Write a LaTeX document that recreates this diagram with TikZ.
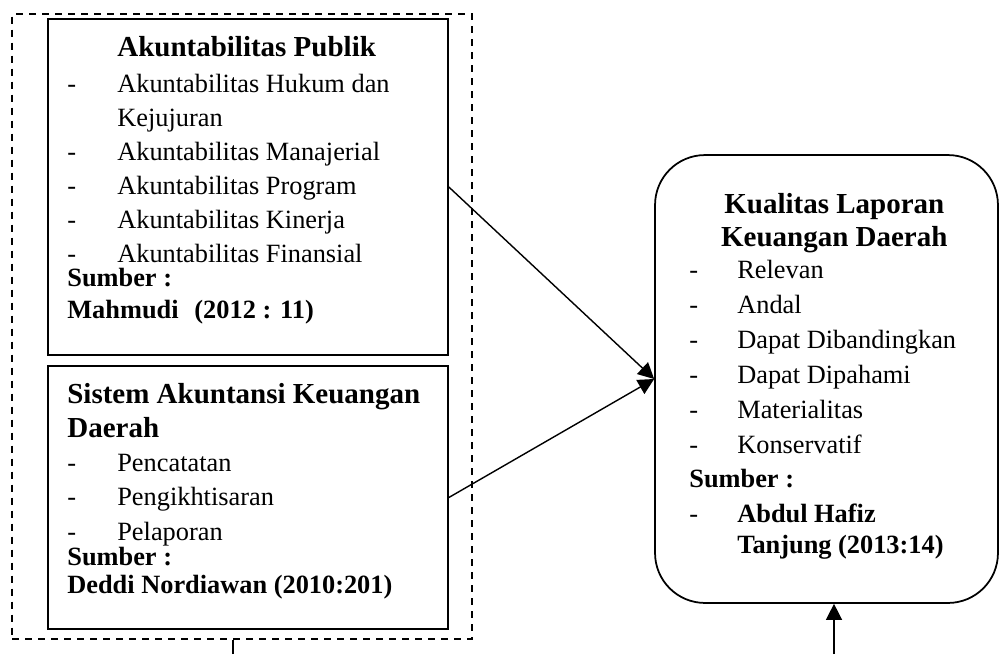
\documentclass[tikz,border=0pt]{standalone}
\usepackage{fontspec}
\setmainfont{Liberation Serif}
\usetikzlibrary{arrows.meta, positioning}
\newcommand{\itm}{\makebox[1cm][l]{-}}
\newcommand{\itmk}{\makebox[0.96cm][l]{-}}
\newcommand{\ttl}{\fontsize{16.5}{19.5}\selectfont\bfseries}

\begin{document}
\begin{tikzpicture}[
  x=0.02cm, y=-0.02cm,
  box/.style={rectangle, draw=black, line width=1pt, inner sep=0pt, minimum width=8cm},
  group/.style={rectangle, draw=black, line width=0.9pt, dash pattern=on 4pt off 3.4pt, inner sep=0pt},
  rbox/.style={rectangle, rounded corners=1cm, draw=black, line width=1pt, inner sep=0pt},
  txt/.style={anchor=base west, inner sep=0pt, font=\fontsize{15}{19.5}\selectfont},
  arrow/.style={-{Triangle[length=0.32cm, width=0.32cm]}, line width=0.8pt}
]
\useasboundingbox (0,0) rectangle (1001,654);

% Dashed frame round the two inputs
\node[group, minimum width=9.2cm, minimum height=12.5cm] (grp) at (242,326.5) {};

% Input boxes
\node[box, minimum height=6.72cm] (publik) at (248,187) {};
\node[box, minimum height=5.26cm] (sakd) at (248,497.5) {};

% Output box
\node[rbox, minimum width=6.86cm, minimum height=8.96cm] (kualitas) at (826.5,379) {};

% Box texts
\node[txt, font=\fontsize{15}{19.3}\selectfont] (publiktxt) at (67,56) {\begin{tabular}[t]{@{}l@{}}
  \hspace*{1cm}{\ttl Akuntabilitas Publik}\\[1.5pt]
  \itm Akuntabilitas Hukum dan\\
  \hspace*{1cm}Kejujuran\\
  \itm Akuntabilitas Manajerial\\
  \itm Akuntabilitas Program\\
  \itm Akuntabilitas Kinerja\\
  \itm Akuntabilitas Finansial\\[-5.3pt]
  \textbf{Sumber :}\\[-1.3pt]
  \textbf{Mahmudi\hspace{0.6em}(2012 : 11)}
\end{tabular}};
\node[txt] (sakdtxt) at (67,403) {\begin{tabular}[t]{@{}l@{}}
  {\ttl Sistem Akuntansi Keuangan}\\
  {\ttl Daerah}\\
  \itm Pencatatan\\
  \itm Pengikhtisaran\\
  \itm Pelaporan\\[-5.3pt]
  \textbf{Sumber :}\\[-3pt]
  \textbf{Deddi Nordiawan (2010:201)}
\end{tabular}};
\node[txt, font=\fontsize{15}{20}\selectfont] (kualitastxt) at (689,213) {\begin{tabular}[t]{@{}l@{}}
  \makebox[5.8cm][c]{\ttl Kualitas Laporan}\\[-0.7pt]
  \makebox[5.8cm][c]{\ttl Keuangan Daerah}\\[-2.3pt]
  \itmk Relevan\\
  \itmk Andal\\
  \itmk Dapat Dibandingkan\\
  \itmk Dapat Dipahami\\
  \itmk Materialitas\\
  \itmk Konservatif\\[-1pt]
  \textbf{Sumber :}\\
  \itmk\textbf{Abdul Hafiz}\\[-2.4pt]
  \hspace*{0.96cm}\textbf{Tanjung (2013:14)}
\end{tabular}};

% Connectors
\draw[arrow] (publik.east) -- (kualitas.west);
\draw[arrow] (sakd.east) -- (kualitas.west);

\coordinate (grpend) at (233,654);
\coordinate (kualend) at (834,654);
\draw[line width=0.8pt] (grpend) -- (grpend |- grp.south);
\draw[arrow] (kualend) -- (kualend |- kualitas.south);
\end{tikzpicture}
\end{document}
